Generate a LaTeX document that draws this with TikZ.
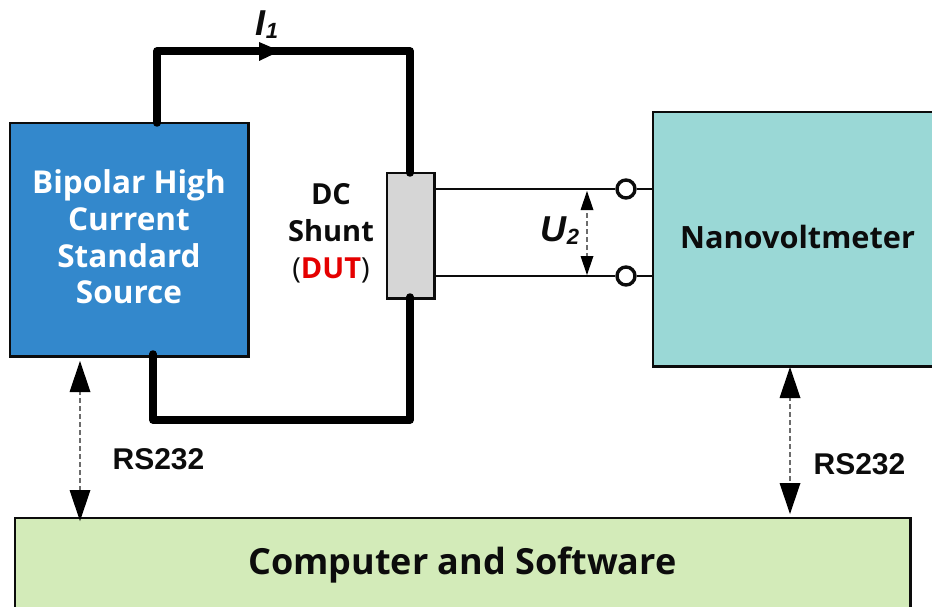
\documentclass[tikz,border=0pt]{standalone}
\usepackage{fontspec}
\setmainfont{Open Sans}
\newfontfamily\arialf{Liberation Sans}
\usetikzlibrary{arrows.meta,calc}
\definecolor{srcblue}{HTML}{3388CC}
\definecolor{nvteal}{HTML}{9AD8D6}
\definecolor{pcgreen}{HTML}{D3EBB9}
\definecolor{shgray}{HTML}{D6D6D6}
\definecolor{inkc}{HTML}{0C0C0C}
\tikzset{
 x=1pt,y=-1pt,
 blockbox/.style={draw=inkc,line width=2.4pt,inner sep=0pt,anchor=north west,font=\bfseries},
 power/.style={draw=black,line width=7.5pt,line join=round,line cap=round},
 wire/.style={draw=inkc,line width=2.6pt},
 term/.style={circle,draw=inkc,line width=3.4pt,fill=white,minimum size=18pt,inner sep=0pt},
 dashdbl/.style={draw=gray!85!black,line width=1.2pt,dash pattern=on 5pt off 3pt},
 headb/.style={fill=black,draw=none},
 lbl/.style={font=\arialf\bfseries,text=inkc,inner sep=0pt},
}
\newcommand{\headup}[2]{\fill[headb] (#1,#2) -- ++(-10.5,31) -- ++(21,0) -- cycle;}
\newcommand{\headdn}[2]{\fill[headb] (#1,#2) -- ++(-10.5,-31) -- ++(21,0) -- cycle;}
\newcommand{\headupS}[2]{\fill[headb] (#1,#2) -- ++(-6.5,19) -- ++(13,0) -- cycle;}
\newcommand{\headdnS}[2]{\fill[headb] (#1,#2) -- ++(-6.5,-19) -- ++(13,0) -- cycle;}
\begin{document}
\begin{tikzpicture}
\useasboundingbox (0,0) rectangle (932,607);
\fill[white] (0,0) rectangle (932,607);
% blocks
\node[blockbox,fill=srcblue,minimum width=238.4pt,minimum height=233.4pt] (src) at (8.8,121.8) {};
\node[font=\bfseries\fontsize{31.5}{36.7}\selectfont,text=white,align=center,inner sep=0pt] (srct) at (129,237) {Bipolar High\\Current\\Standard\\Source};
\node[blockbox,fill=nvteal,minimum width=282pt,minimum height=254.4pt] (nv) at (651.8,110.8) {};
\node[font=\bfseries\fontsize{30.7}{35}\selectfont,text=inkc,inner sep=0pt] (nvt) at (797.5,237) {Nanovoltmeter};
\node[blockbox,fill=pcgreen,minimum width=895.4pt,minimum height=100pt] (pc) at (13.8,516.8) {};
\node[font=\bfseries\fontsize{36}{40}\selectfont,text=inkc,inner sep=0pt] (pct) at (462.5,565) {Computer and Software};
\node[blockbox,fill=shgray,draw=inkc,minimum width=47.4pt,minimum height=125.4pt] (shunt) at (385.8,171.8) {};
% power loop
\coordinate (tl) at (157,51);
\coordinate (tr) at (410,51);
\coordinate (bl) at (153,420);
\coordinate (br) at (410,420);
\coordinate (s1) at (157,123);
\coordinate (s2) at (153,354);
\coordinate (sh1) at (410,173);
\coordinate (sh2) at (410,297);
\draw[power] (s1) -- (tl) -- (tr) -- (sh1);
\draw[power] (sh2) -- (br) -- (bl) -- (s2);
\fill[black] (259,42) -- (280,51) -- (259,61) -- cycle;
% sense wires
\node[term] (t1) at (626,189) {};
\node[term] (t2) at (626,276) {};
\coordinate (sa) at (434,189);
\coordinate (sb) at (434,276);
\draw[wire] (sa) -- (t1) (t1) -- (t1 -| nv.west);
\draw[wire] (sb) -- (t2) (t2) -- (t2 -| nv.west);
% U2 arrow
\draw[dashdbl] (587,205) -- (587,262);
\headupS{587}{191}
\headdnS{587}{275}
% RS232 arrows
\draw[dashdbl] (80,390) -- (80,492);
\headup{80}{361}
\headdn{80}{521}
\draw[dashdbl] (790,396) -- (790,484);
\headup{790}{367}
\headdn{790}{514}
% labels
\node[lbl,font=\arialf\bfseries\itshape\fontsize{36}{36}\selectfont] (i1) at (267,25) {I\raisebox{-3pt}{\fontsize{22}{22}\selectfont 1}};
\node[lbl,font=\arialf\bfseries\itshape\fontsize{36}{36}\selectfont] (u2) at (560,231) {U\raisebox{-3pt}{\fontsize{22}{22}\selectfont 2}};
\node[lbl,align=center,font=\bfseries\fontsize{29}{37}\selectfont,text=inkc] (dut) at (331,233) {DC\\Shunt\\{\mdseries(}\textcolor{red!90!black}{DUT}{\mdseries)}};
\node[lbl,font=\arialf\bfseries\fontsize{30}{30}\selectfont] (r1) at (158.5,459) {RS232};
\node[lbl,font=\arialf\bfseries\fontsize{30}{30}\selectfont] (r2) at (859.5,464) {RS232};
\end{tikzpicture}
\end{document}
